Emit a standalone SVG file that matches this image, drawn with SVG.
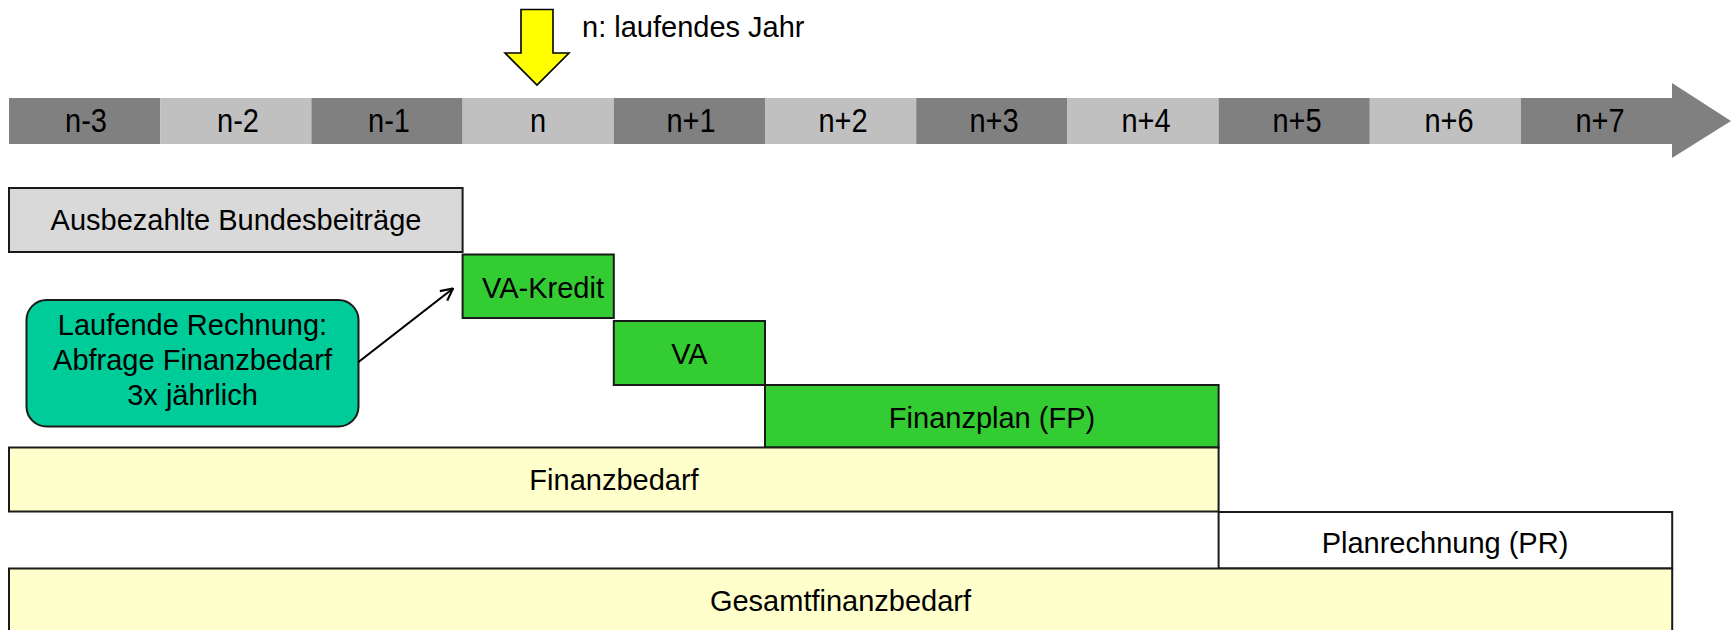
<svg xmlns="http://www.w3.org/2000/svg" width="1734" height="630" viewBox="0 0 1734 630">
<defs>
<style>
text{font-family:"Liberation Sans",Arial,sans-serif;font-size:29px;fill:#000;text-anchor:middle}
.dk{fill:#808080}
.lt{fill:#C0C0C0}
.box{stroke:#1a1a1a;stroke-width:2}
.grey{fill:#D9D9D9}
.green{fill:#33CC33}
.yel{fill:#FFFFCC}
.wht{fill:#FFFFFF}
.conn{fill:none;stroke:#000;stroke-width:2.2}
</style>
<marker id="open" viewBox="0 0 14 14" refX="13" refY="7" markerWidth="14" markerHeight="14" markerUnits="userSpaceOnUse" orient="auto">
<path d="M1,1 L13,7 L1,13" fill="none" stroke="#000" stroke-width="2.2"/>
</marker>
</defs>
<rect width="1734" height="630" fill="#fff"/>

<g id="current-year-marker">
<polygon points="521,9.5 553,9.5 553,53 569,53 537,85 505,53 521,53" fill="#FFFF00" stroke="#000" stroke-width="1.6"/>
<text x="582" y="37" style="text-anchor:start">n: laufendes Jahr</text>
</g>

<g id="timeline">
<rect class="dk" x="9" y="98" width="151.2" height="46"/>
<rect class="lt" x="160.2" y="98" width="151.2" height="46"/>
<rect class="dk" x="311.4" y="98" width="151.2" height="46"/>
<rect class="lt" x="462.6" y="98" width="151.2" height="46"/>
<rect class="dk" x="613.8" y="98" width="151.2" height="46"/>
<rect class="lt" x="765" y="98" width="151.2" height="46"/>
<rect class="dk" x="916.2" y="98" width="151.2" height="46"/>
<rect class="lt" x="1067.4" y="98" width="151.2" height="46"/>
<rect class="dk" x="1218.6" y="98" width="151.2" height="46"/>
<rect class="lt" x="1369.8" y="98" width="151.2" height="46"/>
<polygon class="dk" points="1521,98 1672,98 1672,83 1731,121 1672,158 1672,144 1521,144"/>
<g transform="translate(0,132) scale(1,1.13)">
<text x="86" y="0">n-3</text>
<text x="238" y="0">n-2</text>
<text x="389" y="0">n-1</text>
<text x="538" y="0">n</text>
<text x="691" y="0">n+1</text>
<text x="843" y="0">n+2</text>
<text x="994" y="0">n+3</text>
<text x="1146" y="0">n+4</text>
<text x="1297" y="0">n+5</text>
<text x="1449" y="0">n+6</text>
<text x="1600" y="0">n+7</text>
</g>
</g>

<g id="ausbezahlte">
<rect class="box grey" x="9" y="188" width="453.6" height="64"/>
<text x="236" y="230">Ausbezahlte Bundesbeiträge</text>
</g>

<g id="va-kredit">
<rect class="box green" x="462.6" y="254.5" width="151.2" height="63.5"/>
<text x="543" y="298">VA-Kredit</text>
</g>

<g id="va">
<rect class="box green" x="613.8" y="321" width="151.2" height="64"/>
<text x="689.4" y="364">VA</text>
</g>

<g id="finanzplan">
<rect class="box green" x="765" y="385" width="453.6" height="62.5"/>
<text x="992" y="428">Finanzplan (FP)</text>
</g>

<g id="finanzbedarf">
<rect class="box yel" x="9" y="447.5" width="1209.6" height="64"/>
<text x="614" y="489.5">Finanzbedarf</text>
</g>

<g id="planrechnung">
<rect class="box wht" x="1218.6" y="512" width="453.6" height="56.5"/>
<text x="1445" y="553">Planrechnung (PR)</text>
</g>

<g id="gesamtfinanzbedarf">
<rect class="box yel" x="9" y="568.5" width="1663.2" height="66"/>
<text x="840.5" y="610.5">Gesamtfinanzbedarf</text>
</g>

<g id="laufende-rechnung">
<rect x="26.5" y="300" width="332" height="126.5" rx="20" ry="20" fill="#00CC99" stroke="#1a1a1a" stroke-width="2"/>
<text x="192.5" y="335">Laufende Rechnung:</text>
<text x="192.5" y="370">Abfrage Finanzbedarf</text>
<text x="192.5" y="405">3x jährlich</text>
</g>

<g id="connectors">
<line class="conn" x1="358.5" y1="362" x2="453" y2="288.5" marker-end="url(#open)"/>
</g>
</svg>
